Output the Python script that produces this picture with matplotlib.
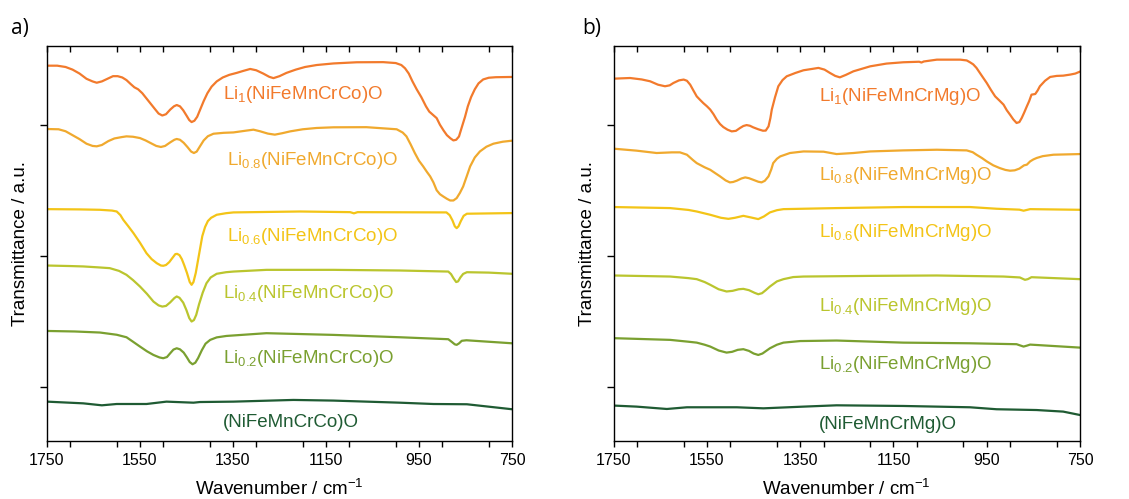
import numpy as np
import matplotlib.pyplot as plt
from matplotlib.ticker import MultipleLocator, NullFormatter

plt.rcParams['font.family'] = ['Liberation Sans', 'DejaVu Sans']
plt.rcParams['mathtext.fontset'] = 'custom'
plt.rcParams['mathtext.rm'] = 'Liberation Sans'
plt.rcParams['mathtext.it'] = 'Liberation Sans:italic'
plt.rcParams['mathtext.bf'] = 'Liberation Sans:bold'

# --- spectra, Co series (stacked, transmittance in a.u.) ---
co_li10_wn = [1750, 1728, 1710, 1695, 1680, 1665, 1652, 1643, 1632, 1620, 1608, 1598, 1588, 1579, 1570,
              1562, 1554, 1545, 1536, 1527, 1518, 1510, 1502, 1494, 1485, 1477, 1471, 1464, 1457, 1450,
              1444, 1439, 1433, 1427, 1420, 1413, 1405, 1396, 1385, 1372, 1358, 1342, 1328, 1313, 1300,
              1285, 1272, 1263, 1250, 1235, 1215, 1195, 1170, 1134, 1084, 1027, 1000, 988, 980, 972,
              964, 955, 945, 935, 928, 920, 912, 905, 897, 890, 882, 876, 870, 864, 858,
              851, 845, 838, 830, 822, 812, 800, 785, 750]
co_li10_t = [2.45, 2.45, 2.44, 2.42, 2.39, 2.35, 2.33, 2.32, 2.33, 2.35, 2.37, 2.37, 2.36, 2.34, 2.31,
             2.285, 2.27, 2.24, 2.20, 2.16, 2.12, 2.085, 2.07, 2.08, 2.115, 2.14, 2.15, 2.14, 2.11, 2.07,
             2.035, 2.02, 2.03, 2.06, 2.12, 2.18, 2.24, 2.29, 2.33, 2.36, 2.38, 2.395, 2.41, 2.425, 2.415,
             2.39, 2.365, 2.355, 2.37, 2.395, 2.42, 2.44, 2.455, 2.467, 2.476, 2.477, 2.47, 2.455, 2.43, 2.39,
             2.33, 2.27, 2.21, 2.14, 2.10, 2.075, 2.05, 2.00, 1.955, 1.92, 1.895, 1.88, 1.885, 1.91, 1.98,
             2.06, 2.14, 2.21, 2.27, 2.315, 2.345, 2.358, 2.362, 2.364]

co_li08_wn = [1750, 1725, 1710, 1695, 1680, 1665, 1652, 1643, 1632, 1618, 1605, 1590, 1579, 1565, 1550,
              1538, 1526, 1515, 1505, 1496, 1485, 1476, 1471, 1464, 1456, 1448, 1440, 1434, 1428, 1421,
              1413, 1404, 1392, 1370, 1349, 1321, 1306, 1292, 1275, 1260, 1244, 1227, 1200, 1170, 1134,
              1063, 998, 985, 977, 968, 959, 950, 941, 933, 926, 919, 912, 905, 898, 890,
              883, 876, 869, 862, 855, 847, 840, 830, 819, 805, 790, 770, 750]
co_li08_t = [1.967, 1.965, 1.95, 1.92, 1.89, 1.855, 1.838, 1.835, 1.845, 1.875, 1.895, 1.905, 1.911, 1.908,
             1.898, 1.88, 1.858, 1.838, 1.83, 1.838, 1.865, 1.885, 1.891, 1.885, 1.862, 1.83, 1.795, 1.784,
             1.795, 1.835, 1.88, 1.912, 1.931, 1.938, 1.941, 1.955, 1.962, 1.95, 1.932, 1.924, 1.935, 1.949,
             1.965, 1.975, 1.980, 1.981, 1.965, 1.94, 1.911, 1.85, 1.784, 1.725, 1.682, 1.64, 1.606, 1.56,
             1.50, 1.47, 1.453, 1.435, 1.422, 1.422, 1.44, 1.48, 1.529, 1.61, 1.682, 1.75, 1.796, 1.832,
             1.855, 1.87, 1.878]

co_li06_wn = [1750, 1680, 1636, 1610, 1600, 1592, 1586, 1575, 1564, 1550, 1536, 1525, 1514, 1505, 1500,
              1494, 1487, 1480, 1474, 1470, 1465, 1460, 1455, 1449, 1443, 1439, 1435, 1430, 1426, 1421,
              1416, 1410, 1404, 1397, 1385, 1365, 1349, 1206, 1098, 1090, 1082, 891, 884, 878, 873,
              869, 865, 860, 854, 847, 750]
co_li06_t = [1.356, 1.354, 1.351, 1.345, 1.338, 1.31, 1.275, 1.225, 1.173, 1.10, 1.02, 0.975, 0.944, 0.926,
             0.924, 0.93, 0.952, 0.985, 1.013, 1.015, 1.005, 0.975, 0.93, 0.87, 0.80, 0.779, 0.80, 0.87,
             0.95, 1.05, 1.15, 1.22, 1.265, 1.29, 1.313, 1.325, 1.331, 1.338, 1.333, 1.324, 1.333, 1.331,
             1.31, 1.27, 1.225, 1.211, 1.225, 1.265, 1.305, 1.321, 1.326]

co_li04_wn = [1750, 1700, 1672, 1640, 1615, 1595, 1579, 1565, 1550, 1535, 1521, 1510, 1502, 1494, 1485,
              1476, 1471, 1465, 1457, 1450, 1444, 1439, 1434, 1429, 1423, 1415, 1407, 1398, 1385, 1365,
              1349, 1278, 1134, 991, 887, 881, 876, 870, 866, 861, 855, 847, 800, 750]
co_li04_t = [0.926, 0.922, 0.919, 0.912, 0.906, 0.885, 0.855, 0.815, 0.766, 0.71, 0.651, 0.622, 0.613,
             0.618, 0.645, 0.678, 0.69, 0.68, 0.643, 0.585, 0.525, 0.499, 0.51, 0.55, 0.63, 0.72, 0.791,
             0.835, 0.863, 0.875, 0.880, 0.893, 0.893, 0.888, 0.880, 0.86, 0.83, 0.80, 0.805, 0.835,
             0.862, 0.875, 0.872, 0.863]

co_li02_wn = [1750, 1690, 1636, 1600, 1579, 1565, 1550, 1535, 1521, 1508, 1500, 1492, 1485, 1478, 1471,
              1464, 1456, 1449, 1443, 1437, 1431, 1425, 1417, 1409, 1399, 1385, 1364, 1278, 1134, 991,
              887, 880, 873, 869, 864, 858, 848, 750]
co_li02_t = [0.427, 0.423, 0.415, 0.398, 0.379, 0.345, 0.308, 0.272, 0.244, 0.225, 0.219, 0.228, 0.257,
             0.285, 0.295, 0.287, 0.262, 0.225, 0.19, 0.173, 0.185, 0.22, 0.28, 0.33, 0.359, 0.378, 0.389,
             0.410, 0.397, 0.379, 0.364, 0.345, 0.325, 0.321, 0.332, 0.352, 0.356, 0.333]

co_li00_wn = [1750, 1672, 1632, 1600, 1536, 1493, 1435, 1421, 1349, 1220, 1134, 991, 919, 847, 750]
co_li00_t = [-0.112, -0.125, -0.140, -0.130, -0.130, -0.112, -0.120, -0.115, -0.112, -0.099, -0.104,
             -0.120, -0.130, -0.132, -0.170]

# --- spectra, Mg series ---
mg_li10_wn = [1750, 1715, 1690, 1672, 1655, 1640, 1630, 1622, 1610, 1600, 1593, 1586, 1579, 1572, 1565,
              1558, 1550, 1543, 1536, 1529, 1522, 1515, 1506, 1497, 1488, 1479, 1472, 1465, 1458, 1451,
              1440, 1430, 1424, 1418, 1414, 1411, 1404, 1397, 1388, 1379, 1360, 1343, 1325, 1311, 1298,
              1286, 1275, 1265, 1252, 1236, 1200, 1165, 1129, 1095, 1090, 1085, 1057, 1007, 993, 986,
              979, 972, 960, 950, 941, 932, 923, 914, 907, 900, 893, 886, 880, 875, 870,
              864, 859, 854, 846, 841, 836, 825, 814, 800, 786, 771, 760, 750]
mg_li10_t = [2.351, 2.356, 2.345, 2.331, 2.305, 2.293, 2.300, 2.318, 2.338, 2.344, 2.335, 2.305, 2.26,
             2.216, 2.19, 2.165, 2.14, 2.115, 2.08, 2.038, 2.005, 1.982, 1.962, 1.949, 1.953, 1.975, 1.99,
             1.997, 1.992, 1.980, 1.965, 1.954, 1.955, 1.987, 2.05, 2.115, 2.21, 2.293, 2.34, 2.369, 2.395,
             2.415, 2.425, 2.433, 2.42, 2.394, 2.372, 2.361, 2.38, 2.407, 2.445, 2.466, 2.476, 2.48, 2.474,
             2.482, 2.496, 2.496, 2.49, 2.476, 2.46, 2.433, 2.37, 2.318, 2.265, 2.216, 2.185, 2.153, 2.11,
             2.076, 2.04, 2.013, 2.02, 2.051, 2.09, 2.140, 2.18, 2.229, 2.234, 2.26, 2.293, 2.335, 2.364,
             2.372, 2.374, 2.382, 2.39, 2.405]

mg_li08_wn = [1750, 1701, 1658, 1625, 1608, 1593, 1580, 1572, 1555, 1543, 1530, 1522, 1510, 1501, 1494,
              1486, 1476, 1468, 1460, 1451, 1440, 1433, 1426, 1418, 1412, 1408, 1400, 1393, 1372, 1343,
              1300, 1272, 1236, 1200, 1129, 1057, 993, 980, 972, 960, 950, 936, 922, 910, 900,
              890, 880, 870, 864, 857, 850, 843, 830, 807, 750]
mg_li08_t = [1.817, 1.802, 1.784, 1.789, 1.789, 1.771, 1.73, 1.707, 1.675, 1.656, 1.625, 1.606, 1.575,
             1.560, 1.563, 1.573, 1.59, 1.598, 1.592, 1.580, 1.565, 1.560, 1.572, 1.606, 1.66, 1.707, 1.74,
             1.758, 1.784, 1.796, 1.794, 1.776, 1.784, 1.796, 1.804, 1.809, 1.804, 1.79, 1.771, 1.745,
             1.720, 1.69, 1.669, 1.655, 1.649, 1.652, 1.665, 1.69, 1.695, 1.720, 1.735, 1.746, 1.76,
             1.771, 1.776]

mg_li06_wn = [1750, 1629, 1590, 1572, 1543, 1520, 1504, 1490, 1472, 1455, 1440, 1428, 1415, 1400, 1386,
              1272, 1129, 986, 929, 880, 871, 864, 857, 750]
mg_li06_t = [1.372, 1.364, 1.35, 1.338, 1.313, 1.29, 1.282, 1.29, 1.305, 1.292, 1.280, 1.30, 1.331, 1.348,
             1.356, 1.364, 1.372, 1.372, 1.359, 1.352, 1.344, 1.35, 1.356, 1.351]

mg_li04_wn = [1750, 1629, 1590, 1572, 1555, 1543, 1525, 1508, 1495, 1482, 1472, 1460, 1448, 1440, 1432,
              1424, 1415, 1400, 1386, 1365, 1343, 1200, 1057, 914, 879, 873, 868, 862, 854, 750]
mg_li04_t = [0.850, 0.842, 0.83, 0.822, 0.80, 0.779, 0.745, 0.728, 0.733, 0.745, 0.748, 0.738, 0.718,
             0.707, 0.715, 0.738, 0.766, 0.805, 0.822, 0.838, 0.842, 0.847, 0.850, 0.842, 0.835, 0.825,
             0.817, 0.822, 0.837, 0.822]

mg_li02_wn = [1750, 1629, 1590, 1572, 1555, 1543, 1525, 1508, 1496, 1484, 1472, 1460, 1450, 1440, 1431,
              1423, 1415, 1400, 1386, 1350, 1272, 1129, 986, 886, 877, 871, 864, 857, 750]
mg_li02_t = [0.372, 0.359, 0.345, 0.338, 0.322, 0.308, 0.278, 0.262, 0.268, 0.283, 0.288, 0.275, 0.255,
             0.244, 0.255, 0.275, 0.295, 0.322, 0.338, 0.35, 0.354, 0.338, 0.333, 0.326, 0.315, 0.308,
             0.315, 0.323, 0.300]

mg_li00_wn = [1750, 1701, 1636, 1593, 1486, 1429, 1343, 1272, 1129, 986, 929, 843, 786, 750]
mg_li00_t = [-0.142, -0.150, -0.168, -0.155, -0.155, -0.163, -0.150, -0.140, -0.145, -0.155, -0.170,
             -0.176, -0.188, -0.214]

li_content = ['1', '0.8', '0.6', '0.4', '0.2', None]
colors = ['#F27A2C', '#F0A92E', '#F3C417', '#BAC52E', '#7AA030', '#1F5B33']

co_spectra = [(co_li10_wn, co_li10_t), (co_li08_wn, co_li08_t), (co_li06_wn, co_li06_t),
              (co_li04_wn, co_li04_t), (co_li02_wn, co_li02_t), (co_li00_wn, co_li00_t)]
mg_spectra = [(mg_li10_wn, mg_li10_t), (mg_li08_wn, mg_li08_t), (mg_li06_wn, mg_li06_t),
              (mg_li04_wn, mg_li04_t), (mg_li02_wn, mg_li02_t), (mg_li00_wn, mg_li00_t)]

# label anchors (x in cm-1, y baseline in a.u.)
co_label_x = [1371, 1363, 1363, 1371, 1371, 1371]
co_label_y = [2.195, 1.691, 1.111, 0.679, 0.183, -0.309]
mg_label_x = [1310, 1310, 1310, 1310, 1310, 1310]
mg_label_y = [2.179, 1.576, 1.141, 0.576, 0.137, -0.321]


def label(x, metal):
    base = '(NiFeMn' + metal + ')O'
    if x is None:
        return base
    return 'Li$_{' + x + '}$' + base


fig = plt.figure(figsize=(11.29, 4.99), dpi=100)
ax_a = fig.add_axes([0.0416, 0.1168, 0.4119, 0.7910])
ax_b = fig.add_axes([0.5436, 0.1168, 0.4130, 0.7910])

panels = [(ax_a, co_spectra, 'CrCo', co_label_x, co_label_y),
          (ax_b, mg_spectra, 'CrMg', mg_label_x, mg_label_y)]

for ax, spectra, metal, lx, ly in panels:
    for (wn, t), li, c, x0, y0 in zip(spectra, li_content, colors, lx, ly):
        ax.plot(wn, t, color=c, lw=1.6, solid_joinstyle='round')
        ax.text(x0, y0, label(li, metal), color=c, fontsize=13.5, va='baseline', ha='left')

    ax.set_xlim(1750, 750)
    ax.set_ylim(-0.41, 2.60)
    ax.xaxis.set_major_locator(MultipleLocator(200))
    ax.xaxis.set_minor_locator(MultipleLocator(100))
    ax.yaxis.set_major_locator(MultipleLocator(1))
    ax.yaxis.set_major_formatter(NullFormatter())
    ax.tick_params(axis='x', which='both', direction='out', length=4, width=1, labelsize=11.5,
                   top=True, pad=5)
    ax.tick_params(axis='y', which='major', direction='out', length=5, width=1, right=False)
    ax.set_xticks([1750, 1550, 1350, 1150, 950, 750])
    for spine in ax.spines.values():
        spine.set_linewidth(1.0)
    ax.set_xlabel('Wavenumber / cm$^{-1}$', fontsize=13.5, labelpad=7.5)
    ax.set_ylabel('Transmittance / a.u.', fontsize=13.5, labelpad=4.5)

    # top ticks point into the plot
    for tl in ax.xaxis.get_major_ticks() + ax.xaxis.get_minor_ticks():
        tl.tick2line.set_marker(3)

fig.text(0.010, 0.932, 'a)', fontsize=15, family=['Open Sans', 'DejaVu Sans'])
fig.text(0.516, 0.932, 'b)', fontsize=15, family=['Open Sans', 'DejaVu Sans'])

fig.savefig('out.png', dpi=100)
